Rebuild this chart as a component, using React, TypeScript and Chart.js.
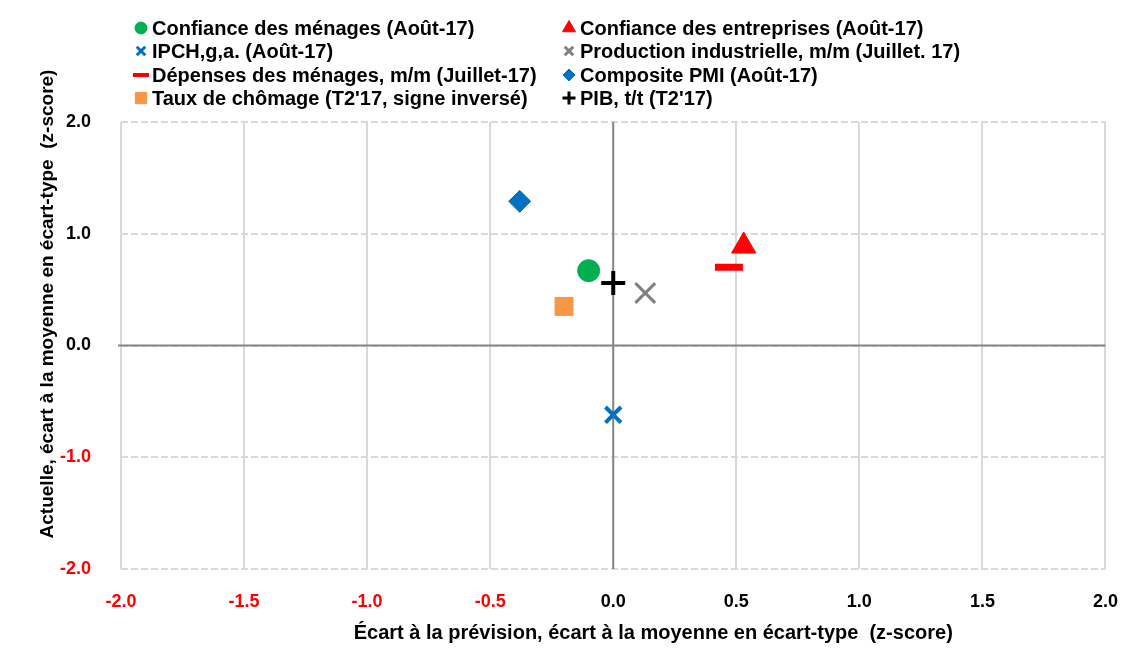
import React, { useEffect, useRef } from 'react';
import { Chart, registerables } from 'chart.js';
import { drawPoint } from 'chart.js/helpers';

Chart.register(...registerables);

// ---- Data ----
const seriesLabels = [
  'Confiance des ménages (Août-17)',
  'Confiance des entreprises (Août-17)',
  'IPCH,g,a. (Août-17)',
  'Production industrielle, m/m (Juillet. 17)',
  'Dépenses des ménages, m/m (Juillet-17)',
  'Composite PMI (Août-17)',
  "Taux de chômage (T2'17, signe inversé)",
  "PIB, t/t (T2'17)",
];
const xValues = [-0.10, 0.53, 0.0, 0.13, 0.47, -0.38, -0.20, 0.0];
const yValues = [0.67, 0.89, -0.62, 0.47, 0.70, 1.29, 0.35, 0.56];
const seriesColors = ['#00B050', '#FF0000', '#0070C0', '#808080', '#FF0000', '#0070C0', '#F79646', '#000000'];
const seriesStyles = ['circle', 'triangle', 'crossRot', 'crossRot', 'line', 'rectRot', 'rect', 'cross'];
const seriesRadius = [11, 14, 11, 14, 14, 11, 12.7, 12];
const seriesLineWidth = [1, 1, 4, 3, 7, 1, 1, 4];
const legendRadius = [6, 7.5, 6, 6, 8, 6, 8, 6.5];
const legendLineWidth = [1, 1, 3, 3, 4, 1, 1, 3];

const xTickValues = [-2.0, -1.5, -1.0, -0.5, 0.0, 0.5, 1.0, 1.5, 2.0];
const yTickValues = [-2.0, -1.0, 0.0, 1.0, 2.0];
const xAxisTitle = 'Écart à la prévision, écart à la moyenne en écart-type  (z-score)';
const yAxisTitle = 'Actuelle, écart à la moyenne en écart-type  (z-score)';

const FONT = "'Liberation Sans', Arial, sans-serif";

const zeroLinesPlugin = {
  id: 'zeroLines',
  beforeDatasetsDraw(chart: any) {
    const { ctx, chartArea, scales } = chart;
    const x0 = scales.x.getPixelForValue(0);
    const y0 = scales.y.getPixelForValue(0);
    ctx.save();
    ctx.strokeStyle = '#868686';
    ctx.lineWidth = 2;
    ctx.beginPath();
    ctx.moveTo(x0, chartArea.top);
    ctx.lineTo(x0, chartArea.bottom);
    ctx.moveTo(chartArea.left - 3, y0);
    ctx.lineTo(chartArea.right, y0);
    ctx.stroke();
    ctx.restore();
  },
};

const titlesPlugin = {
  id: 'axisTitles',
  afterDraw(chart: any) {
    const { ctx, chartArea } = chart;
    ctx.save();
    ctx.fillStyle = '#000';
    ctx.textAlign = 'center';
    ctx.textBaseline = 'middle';
    ctx.font = `bold 20px ${FONT}`;
    ctx.fillText(xAxisTitle, (chartArea.left + chartArea.right) / 2 + 40, chartArea.bottom + 64);
    ctx.font = `bold 19px ${FONT}`;
    ctx.translate(48, chartArea.top + 182);
    ctx.rotate(-Math.PI / 2);
    ctx.fillText(yAxisTitle, 0, 0);
    ctx.restore();
  },
};

const legendPlugin = {
  id: 'customLegend',
  afterDraw(chart: any) {
    const { ctx } = chart;
    const colX = [141, 569];
    const rowY = [28, 51, 75, 98];
    ctx.save();
    ctx.font = `bold 20px ${FONT}`;
    ctx.textBaseline = 'middle';
    ctx.textAlign = 'left';
    chart.data.datasets.forEach((ds: any, i: number) => {
      const cx = colX[i % 2];
      const cy = rowY[Math.floor(i / 2)];
      ctx.fillStyle = seriesColors[i];
      ctx.strokeStyle = seriesColors[i];
      ctx.lineWidth = legendLineWidth[i];
      drawPoint(ctx, { pointStyle: seriesStyles[i] as any, radius: legendRadius[i], rotation: 0, borderWidth: legendLineWidth[i] }, cx, cy);
      ctx.fillStyle = '#000';
      ctx.fillText(ds.label, cx + 11, cy + 1);
    });
    ctx.restore();
  },
};

export default function App() {
  const ref = useRef<HTMLCanvasElement>(null);
  useEffect(() => {
    document.body.style.margin = '0';
    const datasets = seriesLabels.map((label, i) => ({
      label,
      data: [{ x: xValues[i], y: yValues[i] }],
      pointStyle: seriesStyles[i] as any,
      pointRadius: seriesRadius[i],
      pointHoverRadius: seriesRadius[i],
      backgroundColor: seriesColors[i],
      borderColor: seriesColors[i],
      pointBorderWidth: seriesLineWidth[i],
      borderWidth: seriesLineWidth[i],
    }));
    const chart = new Chart(ref.current!, {
      type: 'scatter',
      data: { datasets },
      options: {
        responsive: false,
        animation: false,
        layout: { padding: { top: 122, right: 30, bottom: 0, left: 0 } },
        plugins: { legend: { display: false }, tooltip: { enabled: false } },
        scales: {
          x: {
            type: 'linear',
            min: -2,
            max: 2,
            afterBuildTicks: (scale: any) => {
              scale.ticks = xTickValues.map((v) => ({ value: v }));
            },
            afterFit: (scale: any) => {
              scale.height = 84;
            },
            grid: { color: '#d9d9d9', lineWidth: 2, drawTicks: false },
            border: { display: false },
            ticks: {
              padding: 22,
              font: { family: FONT, size: 18, weight: 'bold' },
              color: (c: any) => (c.tick && c.tick.value < 0 ? '#FF0000' : '#000000'),
              callback: (v: any) => Number(v).toFixed(1),
            },
          },
          y: {
            type: 'linear',
            min: -2,
            max: 2,
            afterBuildTicks: (scale: any) => {
              scale.ticks = yTickValues.map((v) => ({ value: v }));
            },
            afterFit: (scale: any) => {
              scale.width = 121;
            },
            grid: { color: '#d9d9d9', lineWidth: 2, drawTicks: false },
            border: { display: false, dash: [7, 3] },
            ticks: {
              padding: 30,
              font: { family: FONT, size: 18, weight: 'bold' },
              color: (c: any) => (c.tick && c.tick.value < 0 ? '#FF0000' : '#000000'),
              callback: (v: any) => Number(v).toFixed(1),
            },
          },
        },
      },
      plugins: [zeroLinesPlugin, titlesPlugin, legendPlugin],
    });
    return () => chart.destroy();
  }, []);
  return (
    <div style={{ width: 1140, height: 653, position: 'relative', background: '#fff' }}>
      <canvas ref={ref} width={1140} height={653} style={{ width: 1140, height: 653 }} />
    </div>
  );
}
